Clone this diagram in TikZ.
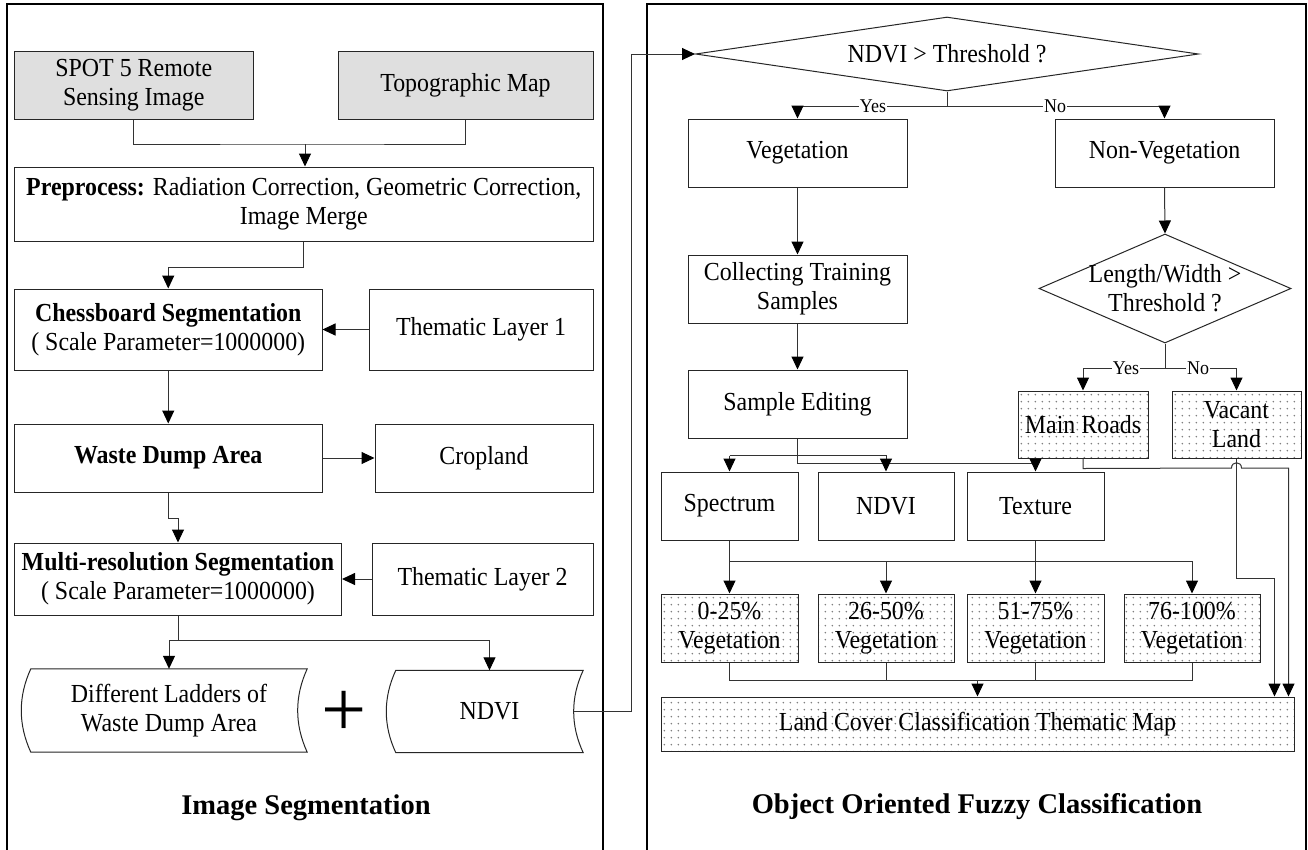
\documentclass[tikz,border=0pt]{standalone}
\usepackage{fontspec}
\setmainfont[FakeStretch=0.92]{Liberation Serif}
\newfontfamily\plainserif{Liberation Serif}
\usetikzlibrary{shapes.geometric,arrows.meta,patterns.meta,calc}
\definecolor{graybg}{RGB}{223,223,223}
\tikzdeclarepattern{
  name=sparsedots,
  type=uncolored,
  bottom left={(-1.5pt,-1.5pt)},
  top right={(5.5pt,5.5pt)},
  tile size={(7pt,7pt)},
  code={\fill (0pt,0pt) circle (1pt);}
}
\tikzset{
  bodyfont/.style={font=\fontsize{26}{29}\selectfont},
  box/.style={draw=black!85, line width=1pt, inner sep=0pt, align=center, bodyfont},
  gbox/.style={box, fill=graybg},
  dbox/.style={box, pattern=sparsedots, pattern color=black!50},
  datashape/.style={draw=black!85, line width=1pt},
  conn/.style={draw=black!80, line width=1pt},
  arrline/.style={conn, -{Triangle[length=13pt,width=12pt,color=black]}},
  frame/.style={draw=black, line width=1.5pt},
  lbl/.style={fill=white, inner sep=1pt, font=\fontsize{19.5}{21}\selectfont},
  title/.style={font=\plainserif\fontsize{28.5}{32}\selectfont\bfseries}
}
\begin{document}
\begin{tikzpicture}[x=1pt, y=-1pt]
\useasboundingbox (0,0) rectangle (1308,849);
\fill[white] (0,0) rectangle (1308,849);
% frames
\draw[frame] (7,855) -- (7,4) -- (603,4) -- (603,855);
\draw[frame] (647,855) -- (647,4) -- (1306,4) -- (1306,855);

% ---------- left panel ----------
\node[gbox, minimum width=238.5pt, minimum height=68pt] (spot) at (133.75,85) {SPOT 5 Remote\\Sensing Image};
\node[gbox, minimum width=255pt, minimum height=68pt] (topo) at (465.5,85) {Topographic Map};
\node[box, minimum width=578.5pt, minimum height=74pt] (prep) at (303.75,204) {\textbf{Preprocess:} Radiation Correction, Geometric Correction,\\Image Merge};
\node[box, minimum width=307.5pt, minimum height=81pt] (chess) at (168.25,329.5) {\textbf{Chessboard Segmentation}\\( Scale Parameter=1000000)};
\node[box, minimum width=224pt, minimum height=81pt] (tl1) at (481,329.5) {Thematic Layer 1};
\node[box, minimum width=307.5pt, minimum height=68pt] (waste) at (168.25,458) {\textbf{Waste Dump Area}};
\node[box, minimum width=218pt, minimum height=68pt] (crop) at (484,458) {Cropland};
\node[box, minimum width=327pt, minimum height=72pt] (multi) at (178,579) {\textbf{Multi-resolution Segmentation}\\( Scale Parameter=1000000)};
\node[box, minimum width=221pt, minimum height=72pt] (tl2) at (482.5,579) {Thematic Layer 2};

\node[inner sep=0pt, minimum width=276pt, minimum height=83pt, align=center, bodyfont] (ladders) at (169,710.5) {Different Ladders of\\Waste Dump Area};
\draw[datashape] (ladders.north west) -- (ladders.north east)
  .. controls +(-12.7,27.7) and +(-12.7,-27.7) .. (ladders.south east)
  -- (ladders.south west)
  .. controls +(-12.7,-27.7) and +(-12.7,27.7) .. (ladders.north west) -- cycle;
\node[inner sep=0pt, minimum width=187pt, minimum height=82pt, align=center, bodyfont] (ndvi1) at (489.5,711.5) {NDVI};
\draw[datashape] (ndvi1.north west) -- (ndvi1.north east)
  .. controls +(-12.7,27.3) and +(-12.7,-27.3) .. (ndvi1.south east)
  -- (ndvi1.south west)
  .. controls +(-12.7,-27.3) and +(-12.7,27.3) .. (ndvi1.north west) -- cycle;
\node[font=\plainserif\fontsize{80}{80}\selectfont, inner sep=0pt] (plus) at (344,714) {+};
\node[title] (t1) at (306,808) {Image Segmentation};

% left connectors
\draw[conn] (spot.south) |- (305,144) coordinate (j1) -| (topo.south);
\draw[arrline] (j1) -- (j1 |- prep.north);
\draw[arrline] (prep.south) -- ++(0,26) -| (chess.north);
\draw[arrline] (tl1) -- (chess);
\draw[arrline] (chess) -- (waste);
\draw[arrline] (waste) -- (crop);
\draw[arrline] (waste.south) -- ++(0,26) -| (multi.north);
\draw[arrline] (tl2) -- (multi);
\draw[conn] (multi.south) -- ++(0,25) coordinate (j2);
\draw[arrline] (j2) -| (ladders.north);
\draw[arrline] (j2) -| (ndvi1.north);

% ---------- right panel ----------
\node[diamond, draw=black!85, line width=1pt, aspect=6.8, minimum width=503pt, minimum height=74pt, inner sep=0pt, bodyfont] (d1) at (947,54) {NDVI > Threshold ?};
\draw[arrline] ([xshift=-9.5pt]ndvi1.east) -- ++(58,0) |- (d1.west);

\node[box, minimum width=219pt, minimum height=68pt] (veg) at (797.5,153) {Vegetation};
\node[box, minimum width=219pt, minimum height=68pt] (nonveg) at (1164.5,153) {Non-Vegetation};
\node[box, minimum width=219pt, minimum height=68pt] (coll) at (797.5,289) {Collecting Training\\Samples};
\node[box, minimum width=219pt, minimum height=68pt] (sampedit) at (797.5,404) {Sample Editing};
\node[diamond, draw=black!85, line width=1pt, aspect=2.31, minimum width=252pt, minimum height=109pt, inner sep=0pt] (d2) at (1165,288.5) {};
\node[align=center, bodyfont, inner sep=0pt] (d2t) at (d2.center) {Length/Width >\\Threshold ?};
\node[dbox, minimum width=130pt, minimum height=67pt] (roads) at (1083,424.5) {Main Roads};
\node[dbox, minimum width=129pt, minimum height=67pt] (vacant) at (1236.5,424.5) {Vacant\\Land};

\node[box, minimum width=137pt, minimum height=68pt] (spec) at (729.5,506) {Spectrum};
\node[box, minimum width=136pt, minimum height=68pt] (ndvi2) at (886,506) {NDVI};
\node[box, minimum width=137pt, minimum height=68pt] (tex) at (1035.5,506) {Texture};

\node[dbox, minimum width=137pt, minimum height=68pt] (v1) at (729.5,628) {0-25\%\\Vegetation};
\node[dbox, minimum width=136pt, minimum height=68pt] (v2) at (886,628) {26-50\%\\Vegetation};
\node[dbox, minimum width=137pt, minimum height=68pt] (v3) at (1035.5,628) {51-75\%\\Vegetation};
\node[dbox, minimum width=136pt, minimum height=68pt] (v4) at (1192,628) {76-100\%\\Vegetation};
\node[dbox, minimum width=633pt, minimum height=54pt] (lc) at (977.5,724) {Land Cover Classification Thematic Map};
\node[title] (t2) at (977,807) {Object Oriented Fuzzy Classification};

% right connectors
\draw[conn] (d1.south) -- ++(0,15) coordinate (j3);
\draw[arrline] (j3) -| (veg.north);
\draw[arrline] (j3) -| (nonveg.north);
\node[lbl] at (873,106) {Yes};
\node[lbl] at (1055,106) {No};
\draw[arrline] (veg) -- (coll);
\draw[arrline] (nonveg.south) -- (d2.north);
\draw[arrline] (coll) -- (sampedit);
\draw[conn] (d2.south) -- ++(0,25) coordinate (j4);
\draw[arrline] (j4) -| (roads.north);
\draw[arrline] (j4) -| (vacant.north);
\node[lbl] at (1126,368) {Yes};
\node[lbl] at (1198,368) {No};

\draw[arrline] (sampedit.south) -- ++(0,25) -| (tex.north);
\draw[conn] (spec.north) ++(0,-16) coordinate (j5);
\draw[arrline] (j5) -- (spec.north);
\draw[arrline] (j5) -| (ndvi2.north);

\draw[conn] (spec.south) -- ++(0,21) coordinate (j6);
\draw[arrline] (j6) -- (v1.north);
\draw[arrline] (j6) -| (v2.north);
\draw[arrline] (j6) -| (v4.north);
\draw[arrline] (tex) -- (v3);

\draw[conn] (v1.south) -- ++(0,18) coordinate (j7) -| (v4.south);
\draw[conn] (v2.south) -- (v2.south |- j7);
\draw[conn] (v3.south) -- (v3.south |- j7);
\draw[arrline] (j7 -| lc.north) -- (lc.north);

\draw[arrline] (roads.south) -- ++(0,10) -- (1231.5,468)
  .. controls +(0,-7) and +(0,-7) .. (1241.5,468)
  -| ([xshift=-6pt]lc.north east);
\draw[arrline] (vacant.south) -- ++(0,120) -| ([xshift=-20pt]lc.north east);
\end{tikzpicture}
\end{document}
